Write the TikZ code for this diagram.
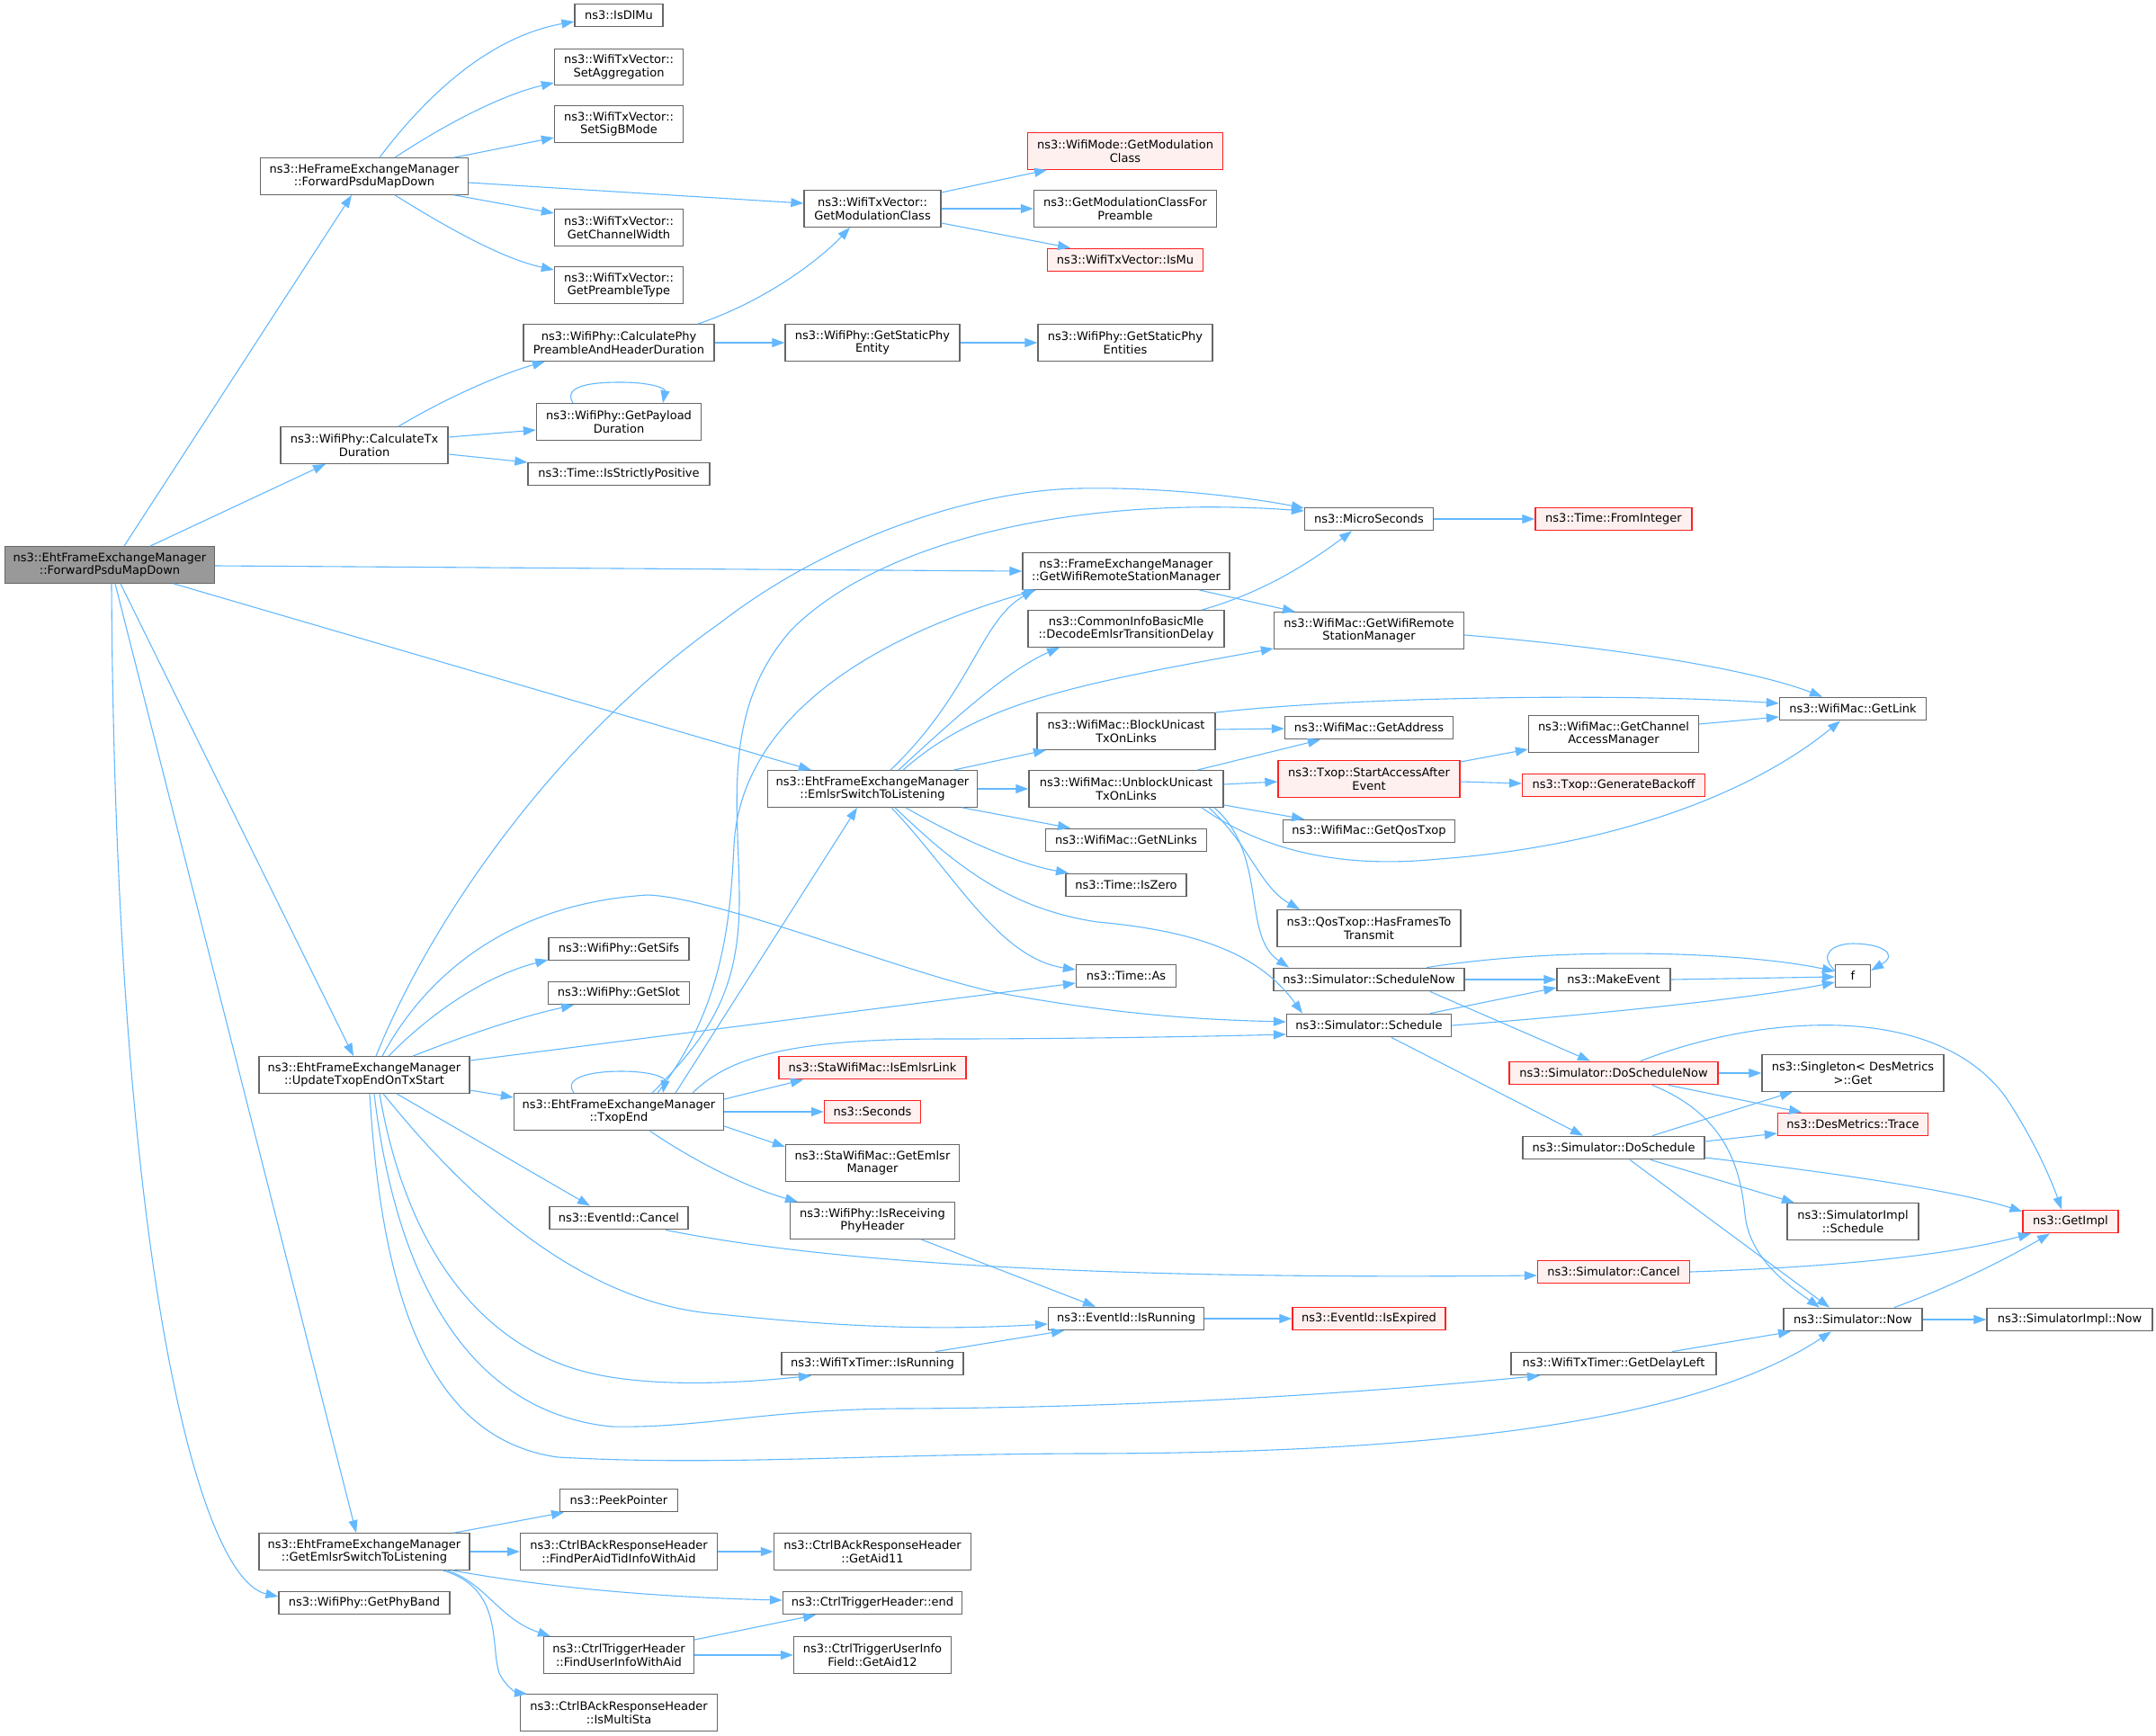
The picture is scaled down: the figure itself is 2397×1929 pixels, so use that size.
\documentclass[tikz,border=0pt]{standalone}
\usepackage{fontspec}
\setmainfont{DejaVu Sans}
\usetikzlibrary{arrows.meta}
\definecolor{edgec}{HTML}{63B8FF}
\definecolor{bordc}{HTML}{666666}
\definecolor{rootc}{HTML}{999999}
\definecolor{redfill}{HTML}{FFF0F0}
\definecolor{redb}{HTML}{FF2020}
\tikzset{
  nd/.style={draw=bordc, fill=white, line width=1.3pt, inner sep=0pt, minimum height=25.5pt,
    font=\fontsize{13pt}{14.7pt}\selectfont, align=center, text=black},
  two/.style={minimum height=40.5pt},
  rootnd/.style={fill=rootc},
  hl/.style={draw=redb, fill=redfill},
  ed/.style={draw=edgec, line width=1.1pt, -{Triangle[length=14pt,width=10pt]}}
}
\begin{document}
\begin{tikzpicture}[x=1pt,y=-1pt]
\useasboundingbox (0,0) rectangle (2397,1929);
% column 1
\node[nd,rootnd,two,minimum width=233pt] (R) at (122,628) {ns3::EhtFrameExchangeManager\\::ForwardPsduMapDown};
% column 2
\node[nd,two,minimum width=231pt] (HeFwd) at (405,196) {ns3::HeFrameExchangeManager\\::ForwardPsduMapDown};
\node[nd,two,minimum width=186pt] (CalcTx) at (405,495) {ns3::WifiPhy::CalculateTx\\Duration};
\node[nd,two,minimum width=234pt] (Upd) at (405,1195) {ns3::EhtFrameExchangeManager\\::UpdateTxopEndOnTxStart};
\node[nd,two,minimum width=234pt] (GetEmlsr) at (405,1725) {ns3::EhtFrameExchangeManager\\::GetEmlsrSwitchToListening};
\node[nd,minimum width=190pt] (PhyBand) at (405,1782) {ns3::WifiPhy::GetPhyBand};
% column 3
\node[nd,minimum width=98pt] (IsDlMu) at (688,17) {ns3::IsDlMu};
\node[nd,two,minimum width=143pt] (SetAgg) at (688,74.5) {ns3::WifiTxVector::\\SetAggregation};
\node[nd,two,minimum width=143pt] (SetSigB) at (688,138) {ns3::WifiTxVector::\\SetSigBMode};
\node[nd,two,minimum width=143pt] (ChWidth) at (688,253) {ns3::WifiTxVector::\\GetChannelWidth};
\node[nd,two,minimum width=143pt] (PreType) at (688,317) {ns3::WifiTxVector::\\GetPreambleType};
\node[nd,two,minimum width=212pt] (CalcPre) at (688,381) {ns3::WifiPhy::CalculatePhy\\PreambleAndHeaderDuration};
\node[nd,two,minimum width=183pt] (Payload) at (688,469) {ns3::WifiPhy::GetPayload\\Duration};
\node[nd,minimum width=202pt] (StrictPos) at (688,527) {ns3::Time::IsStrictlyPositive};
\node[nd,minimum width=156pt] (Sifs) at (688,1055) {ns3::WifiPhy::GetSifs};
\node[nd,minimum width=157pt] (Slot) at (688,1104) {ns3::WifiPhy::GetSlot};
\node[nd,two,minimum width=233pt] (TxopEnd) at (688,1236) {ns3::EhtFrameExchangeManager\\::TxopEnd};
\node[nd,minimum width=154pt] (EvCancel) at (688,1354) {ns3::EventId::Cancel};
\node[nd,minimum width=131pt] (Peek) at (688,1668) {ns3::PeekPointer};
\node[nd,two,minimum width=219pt] (FindPer) at (688,1725) {ns3::CtrlBAckResponseHeader\\::FindPerAidTidInfoWithAid};
\node[nd,two,minimum width=167pt] (FindUser) at (688,1840) {ns3::CtrlTriggerHeader\\::FindUserInfoWithAid};
\node[nd,two,minimum width=219pt] (MultiSta) at (688,1904) {ns3::CtrlBAckResponseHeader\\::IsMultiSta};
% column 4
\node[nd,two,minimum width=152pt] (ModClass) at (970,232) {ns3::WifiTxVector::\\GetModulationClass};
\node[nd,two,minimum width=194pt] (StatEnt) at (970,381) {ns3::WifiPhy::GetStaticPhy\\Entity};
\node[nd,two,minimum width=233pt] (Emlsr) at (970,877) {ns3::EhtFrameExchangeManager\\::EmlsrSwitchToListening};
\node[nd,hl,minimum width=208pt] (EmlsrLink) at (970,1187) {ns3::StaWifiMac::IsEmlsrLink};
\node[nd,hl,minimum width=107pt] (Seconds) at (970,1236) {ns3::Seconds};
\node[nd,two,minimum width=193pt] (EmlsrMgr) at (970,1293) {ns3::StaWifiMac::GetEmlsr\\Manager};
\node[nd,two,minimum width=183pt] (RecvHdr) at (970,1357) {ns3::WifiPhy::IsReceiving\\PhyHeader};
\node[nd,minimum width=202pt] (TmrRun) at (970,1516) {ns3::WifiTxTimer::IsRunning};
\node[nd,two,minimum width=219pt] (Aid11) at (970,1725) {ns3::CtrlBAckResponseHeader\\::GetAid11};
\node[nd,minimum width=199pt] (TrigEnd) at (970,1782) {ns3::CtrlTriggerHeader::end};
\node[nd,two,minimum width=175pt] (Aid12) at (970,1840) {ns3::CtrlTriggerUserInfo\\Field::GetAid12};
% column 5
\node[nd,hl,two,minimum width=217pt] (ModeMod) at (1251,168) {ns3::WifiMode::GetModulation\\Class};
\node[nd,two,minimum width=203pt] (ModPre) at (1251,232) {ns3::GetModulationClassFor\\Preamble};
\node[nd,hl,minimum width=173pt] (IsMu) at (1251,289) {ns3::WifiTxVector::IsMu};
\node[nd,two,minimum width=194pt] (StatEnts) at (1251,381) {ns3::WifiPhy::GetStaticPhy\\Entities};
\node[nd,two,minimum width=230pt] (FemRsm) at (1252,635) {ns3::FrameExchangeManager\\::GetWifiRemoteStationManager};
\node[nd,two,minimum width=218pt] (Decode) at (1252,699) {ns3::CommonInfoBasicMle\\::DecodeEmlsrTransitionDelay};
\node[nd,two,minimum width=198pt] (Block) at (1252,813) {ns3::WifiMac::BlockUnicast\\TxOnLinks};
\node[nd,two,minimum width=216pt] (Unblock) at (1252,877) {ns3::WifiMac::UnblockUnicast\\TxOnLinks};
\node[nd,minimum width=179pt] (NLinks) at (1252,934) {ns3::WifiMac::GetNLinks};
\node[nd,minimum width=134pt] (IsZero) at (1252,984) {ns3::Time::IsZero};
\node[nd,minimum width=111pt] (TimeAs) at (1252,1085) {ns3::Time::As};
\node[nd,minimum width=173pt] (EvRun) at (1252,1466) {ns3::EventId::IsRunning};
% column 6
\node[nd,minimum width=143pt] (Micro) at (1522,577) {ns3::MicroSeconds};
\node[nd,two,minimum width=211pt] (MacRsm) at (1522,701) {ns3::WifiMac::GetWifiRemote\\StationManager};
\node[nd,minimum width=187pt] (Addr) at (1522,809) {ns3::WifiMac::GetAddress};
\node[nd,hl,two,minimum width=202pt] (StartAcc) at (1522,866) {ns3::Txop::StartAccessAfter\\Event};
\node[nd,minimum width=191pt] (QosTxop) at (1522,924) {ns3::WifiMac::GetQosTxop};
\node[nd,two,minimum width=204pt] (HasFrames) at (1522,1032) {ns3::QosTxop::HasFramesTo\\Transmit};
\node[nd,minimum width=212pt] (SchedNow) at (1522,1089) {ns3::Simulator::ScheduleNow};
\node[nd,minimum width=183pt] (Sched) at (1522,1140) {ns3::Simulator::Schedule};
\node[nd,hl,minimum width=170pt] (EvExp) at (1522,1466) {ns3::EventId::IsExpired};
% column 7
\node[nd,hl,minimum width=174pt] (FromInt) at (1794,577) {ns3::Time::FromInteger};
\node[nd,two,minimum width=189pt] (ChAcc) at (1794,816) {ns3::WifiMac::GetChannel\\AccessManager};
\node[nd,hl,minimum width=203pt] (Backoff) at (1794,873) {ns3::Txop::GenerateBackoff};
\node[nd,minimum width=126pt] (MakeEv) at (1794,1089) {ns3::MakeEvent};
\node[nd,hl,minimum width=232pt] (DoSchedNow) at (1794,1193) {ns3::Simulator::DoScheduleNow};
\node[nd,minimum width=202pt] (DoSched) at (1794,1276) {ns3::Simulator::DoSchedule};
\node[nd,hl,minimum width=169pt] (SimCancel) at (1794,1414) {ns3::Simulator::Cancel};
\node[nd,minimum width=228pt] (DelayLeft) at (1794,1516) {ns3::WifiTxTimer::GetDelayLeft};
% column 8
\node[nd,minimum width=163pt] (GetLink) at (2060,788) {ns3::WifiMac::GetLink};
\node[nd,minimum width=39pt] (f) at (2060,1085) {f};
\node[nd,two,minimum width=202pt] (Singleton) at (2060,1193) {ns3::Singleton< DesMetrics\\ >::Get};
\node[nd,hl,minimum width=167pt] (Trace) at (2060,1250) {ns3::DesMetrics::Trace};
\node[nd,two,minimum width=146pt] (ImplSched) at (2060,1358) {ns3::SimulatorImpl\\::Schedule};
\node[nd,minimum width=154pt] (SimNow) at (2060,1467) {ns3::Simulator::Now};
% column 9
\node[nd,hl,minimum width=106pt] (GetImpl) at (2302,1358) {ns3::GetImpl};
\node[nd,minimum width=184pt] (ImplNow) at (2301,1467) {ns3::SimulatorImpl::Now};

% ---- edges from root
\draw[ed] (R.north -| 138,0) -- (HeFwd.south -| 391,0);
\draw[ed] (R.north -| 167,0) -- (CalcTx.south -| 362,0);
\draw[ed] (R.east |- 0,629) -- (FemRsm.west |- 0,635);
\draw[ed] (R.south -| 193,0) -- (Emlsr.north -| 902,0);
\draw[ed] (R.south -| 134,0) -- (Upd.north -| 393,0);
\draw[ed] (R.south -| 128,0) -- (GetEmlsr.north -| 396,0);
\draw[ed] (R.south -| 124,0) .. controls (128,1400) and (220,1755) .. (PhyBand.west |- 0,1775);
% ---- HeFwd
\draw[ed] (HeFwd.north -| 422,0) .. controls (490,85) and (560,38) .. (IsDlMu.west |- 0,24);
\draw[ed] (HeFwd.north -| 439,0) .. controls (500,135) and (560,105) .. (SetAgg.west |- 0,92);
\draw[ed] (HeFwd.north -| 505,0) -- (SetSigB.west |- 0,153);
\draw[ed] (HeFwd.east |- 0,203) -- (ModClass.west |- 0,226);
\draw[ed] (HeFwd.south -| 505,0) -- (ChWidth.west |- 0,237);
\draw[ed] (HeFwd.south -| 439,0) .. controls (500,255) and (560,288) .. (PreType.west |- 0,300);
% ---- CalcTx
\draw[ed] (CalcTx.north -| 443,0) .. controls (500,440) and (560,415) .. (CalcPre.south -| 606,0);
\draw[ed] (CalcTx.east |- 0,486) -- (Payload.west |- 0,478);
\draw[ed] (CalcTx.east |- 0,505) -- (StrictPos.west |- 0,514);
\draw[ed] (Payload.north -| 637,0) .. controls (625,428) and (660,425) .. (690,425) .. controls (725,425) and (740,432) .. (Payload.north -| 737,0);
% ---- CalcPre, ModClass, etc
\draw[ed] (CalcPre.north -| 776,0) .. controls (850,335) and (910,290) .. (ModClass.south -| 945,0);
\draw[ed] (CalcPre.east) -- (StatEnt.west);
\draw[ed] (ModClass.east |- 0,214) -- (ModeMod.south -| 1164,0);
\draw[ed] (ModClass.east) -- (ModPre.west);
\draw[ed] (ModClass.east |- 0,248) -- (IsMu.north -| 1190,0);
\draw[ed] (StatEnt.east) -- (StatEnts.west);
\draw[ed] (Micro.east) -- (FromInt.west);
\draw[ed] (FemRsm.south -| 1333,0) -- (MacRsm.north -| 1440,0);
\draw[ed] (Decode.north -| 1336,0) .. controls (1400,660) and (1450,630) .. (Micro.south -| 1503,0);
\draw[ed] (MacRsm.east |- 0,706) .. controls (1800,720) and (1950,745) .. (GetLink.north -| 2026,0);
% ---- Emlsr
\draw[ed] (Emlsr.north -| 990,0) .. controls (1080,770) and (1090,690) .. (FemRsm.south -| 1150,0);
\draw[ed] (Emlsr.north -| 999,0) .. controls (1060,800) and (1120,745) .. (Decode.south -| 1178,0);
\draw[ed] (Emlsr.north -| 1004,0) .. controls (1090,780) and (1200,760) .. (MacRsm.west |- 0,721);
\draw[ed] (Emlsr.north -| 1060,0) -- (Block.south -| 1163,0);
\draw[ed] (Emlsr.east) -- (Unblock.west);
\draw[ed] (Emlsr.south -| 1070,0) -- (NLinks.north -| 1190,0);
\draw[ed] (Emlsr.south -| 1007,0) .. controls (1080,940) and (1140,962) .. (IsZero.north -| 1188,0);
\draw[ed] (Emlsr.south -| 991,0) .. controls (1060,970) and (1110,1065) .. (TimeAs.west |- 0,1078);
\draw[ed] (Emlsr.south -| 995,0) .. controls (1060,960) and (1120,1010) .. (1220,1025) .. controls (1330,1035) and (1400,1060) .. (Sched.north -| 1448,0);
% ---- Block / Unblock
\draw[ed] (Block.north east) .. controls (1500,775) and (1800,770) .. (GetLink.west |- 0,782);
\draw[ed] (Block.east |- 0,811) -- (Addr.west |- 0,810);
\draw[ed] (Unblock.north -| 1331,0) -- (Addr.south -| 1468,0);
\draw[ed] (Unblock.east |- 0,872) -- (StartAcc.west |- 0,869);
\draw[ed] (Unblock.east |- 0,895) -- (QosTxop.north -| 1450,0);
\draw[ed] (Unblock.south -| 1336,0) .. controls (1410,950) and (1500,965) .. (1600,955) .. controls (1800,940) and (1950,880) .. (GetLink.south -| 2046,0);
\draw[ed] (Unblock.south -| 1344,0) .. controls (1390,940) and (1400,985) .. (HasFrames.north -| 1445,0);
\draw[ed] (Unblock.south -| 1350,0) .. controls (1410,950) and (1380,1040) .. (SchedNow.north -| 1433,0);
\draw[ed] (StartAcc.east |- 0,847) -- (ChAcc.west |- 0,833);
\draw[ed] (StartAcc.east |- 0,869) -- (Backoff.west |- 0,871);
\draw[ed] (ChAcc.east |- 0,805) -- (GetLink.west |- 0,797);
% ---- Schedule family
\draw[ed] (SchedNow.north -| 1586,0) .. controls (1750,1050) and (1950,1060) .. (f.west |- 0,1080);
\draw[ed] (SchedNow.east) -- (MakeEv.west);
\draw[ed] (SchedNow.south -| 1590,0) -- (DoSchedNow.north -| 1768,0);
\draw[ed] (Sched.north -| 1590,0) -- (MakeEv.west |- 0,1098);
\draw[ed] (Sched.east |- 0,1140) .. controls (1750,1130) and (1950,1110) .. (f.west |- 0,1092);
\draw[ed] (Sched.south -| 1547,0) -- (DoSched.north -| 1760,0);
\draw[ed] (MakeEv.east) -- (f.west |- 0,1086);
\draw[ed] (f.west |- 0,1079) .. controls (2020,1060) and (2040,1049) .. (2060,1049) .. controls (2090,1049) and (2112,1060) .. (f.east |- 0,1079);
\draw[ed] (DoSchedNow.east) -- (Singleton.west);
\draw[ed] (DoSchedNow.south -| 1855,0) -- (Trace.north -| 2003,0);
\draw[ed] (DoSchedNow.north -| 1824,0) .. controls (1950,1130) and (2150,1110) .. (2230,1220) .. controls (2260,1265) and (2280,1310) .. (GetImpl.north -| 2292,0);
\draw[ed] (DoSchedNow.south -| 1837,0) .. controls (1920,1240) and (1935,1300) .. (1940,1350) .. controls (1945,1400) and (1990,1430) .. (SimNow.north -| 2023,0);
\draw[ed] (DoSched.north -| 1837,0) -- (Singleton.south -| 1993,0);
\draw[ed] (DoSched.east |- 0,1269) -- (Trace.west |- 0,1260);
\draw[ed] (DoSched.east |- 0,1287) .. controls (2050,1305) and (2180,1325) .. (GetImpl.west |- 0,1347);
\draw[ed] (DoSched.south -| 1835,0) -- (ImplSched.north -| 1995,0);
\draw[ed] (DoSched.south -| 1812,0) -- (SimNow.north -| 2034,0);
\draw[ed] (SimCancel.east) .. controls (2000,1410) and (2150,1400) .. (GetImpl.south -| 2258,0);
\draw[ed] (EvCancel.south -| 740,0) .. controls (950,1410) and (1300,1422) .. (SimCancel.west |- 0,1418);
\draw[ed] (SimNow.north -| 2106,0) .. controls (2170,1430) and (2230,1400) .. (GetImpl.south -| 2279,0);
\draw[ed] (SimNow.east) -- (ImplNow.west);
\draw[ed] (DelayLeft.north -| 1859,0) -- (SimNow.south -| 1991,0);
\draw[ed] (EvRun.east) -- (EvExp.west);
\draw[ed] (TmrRun.north -| 1040,0) -- (EvRun.south -| 1183,0);
\draw[ed] (RecvHdr.south -| 1024,0) -- (EvRun.north -| 1218,0);
% ---- TxopEnd
\draw[ed] (TxopEnd.north -| 725,0) .. controls (790,1150) and (822,1100) .. (822,1000) .. controls (822,900) and (800,790) .. (880,700) .. controls (980,600) and (1200,550) .. (Micro.west |- 0,568);
\draw[ed] (TxopEnd.north -| 731,0) .. controls (805,1120) and (812,1020) .. (816,940) .. controls (822,820) and (930,720) .. (FemRsm.south -| 1152,0);
\draw[ed] (TxopEnd.north -| 751,0) -- (Emlsr.south -| 953,0);
\draw[ed] (TxopEnd.north -| 770,0) .. controls (810,1175) and (880,1155) .. (1050,1155) .. controls (1200,1155) and (1350,1152) .. (Sched.west |- 0,1150);
\draw[ed] (TxopEnd.east |- 0,1222) -- (EmlsrLink.south -| 893,0);
\draw[ed] (TxopEnd.east |- 0,1236) -- (Seconds.west);
\draw[ed] (TxopEnd.east |- 0,1252) -- (EmlsrMgr.west |- 0,1275);
\draw[ed] (TxopEnd.south -| 722,0) .. controls (770,1290) and (830,1320) .. (RecvHdr.north -| 887,0);
\draw[ed] (TxopEnd.north -| 638,0) .. controls (625,1197) and (660,1191) .. (690,1191) .. controls (725,1191) and (740,1198) .. (TxopEnd.north -| 737,0);
% ---- UpdateTxopEndOnTxStart
\draw[ed] (Upd.north -| 418,0) .. controls (480,1020) and (620,820) .. (800,693) .. controls (920,600) and (1080,545) .. (1200,543) .. controls (1300,541) and (1400,555) .. (Micro.west |- 0,565);
\draw[ed] (Upd.north -| 425,0) .. controls (470,1090) and (560,1005) .. (720,995) .. controls (800,998) and (1000,1080) .. (1106,1103) .. controls (1250,1130) and (1350,1134) .. (Sched.west |- 0,1136);
\draw[ed] (Upd.north -| 432,0) .. controls (480,1125) and (540,1085) .. (Sifs.west |- 0,1067);
\draw[ed] (Upd.north -| 459,0) .. controls (520,1150) and (580,1130) .. (Slot.south -| 638,0);
\draw[ed] (Upd.east |- 0,1179) -- (TimeAs.west |- 0,1093);
\draw[ed] (Upd.east |- 0,1212) -- (TxopEnd.west |- 0,1220);
\draw[ed] (Upd.south -| 441,0) -- (EvCancel.north -| 656,0);
\draw[ed] (Upd.south -| 426,0) .. controls (510,1320) and (640,1450) .. (800,1461) .. controls (960,1478) and (1060,1478) .. (EvRun.west |- 0,1472);
\draw[ed] (Upd.south -| 422,0) .. controls (450,1380) and (530,1500) .. (663,1528) .. controls (720,1540) and (800,1540) .. (TmrRun.south -| 902,0);
\draw[ed] (Upd.south -| 416,0) .. controls (440,1420) and (520,1570) .. (680,1586) .. controls (780,1588) and (850,1567) .. (1000,1566) .. controls (1300,1565) and (1550,1545) .. (DelayLeft.south -| 1712,0);
\draw[ed] (Upd.south -| 411,0) .. controls (425,1450) and (480,1600) .. (620,1620) .. controls (800,1630) and (950,1617) .. (1200,1616) .. controls (1650,1616) and (1900,1570) .. (SimNow.south -| 2036,0);
% ---- GetEmlsrSwitchToListening
\draw[ed] (GetEmlsr.north -| 505,0) -- (Peek.south -| 627,0);
\draw[ed] (GetEmlsr.east) -- (FindPer.west);
\draw[ed] (GetEmlsr.south -| 503,0) .. controls (580,1760) and (700,1775) .. (TrigEnd.west |- 0,1779);
\draw[ed] (GetEmlsr.south -| 497,0) .. controls (540,1760) and (555,1800) .. (FindUser.north -| 612,0);
\draw[ed] (GetEmlsr.south -| 492,0) .. controls (560,1765) and (545,1830) .. (555,1860) .. controls (562,1875) and (575,1882) .. (MultiSta.north -| 586,0);
\draw[ed] (FindPer.east) -- (Aid11.west);
\draw[ed] (FindUser.east |- 0,1823) -- (TrigEnd.south -| 907,0);
\draw[ed] (FindUser.east) -- (Aid12.west);
\end{tikzpicture}
\end{document}
